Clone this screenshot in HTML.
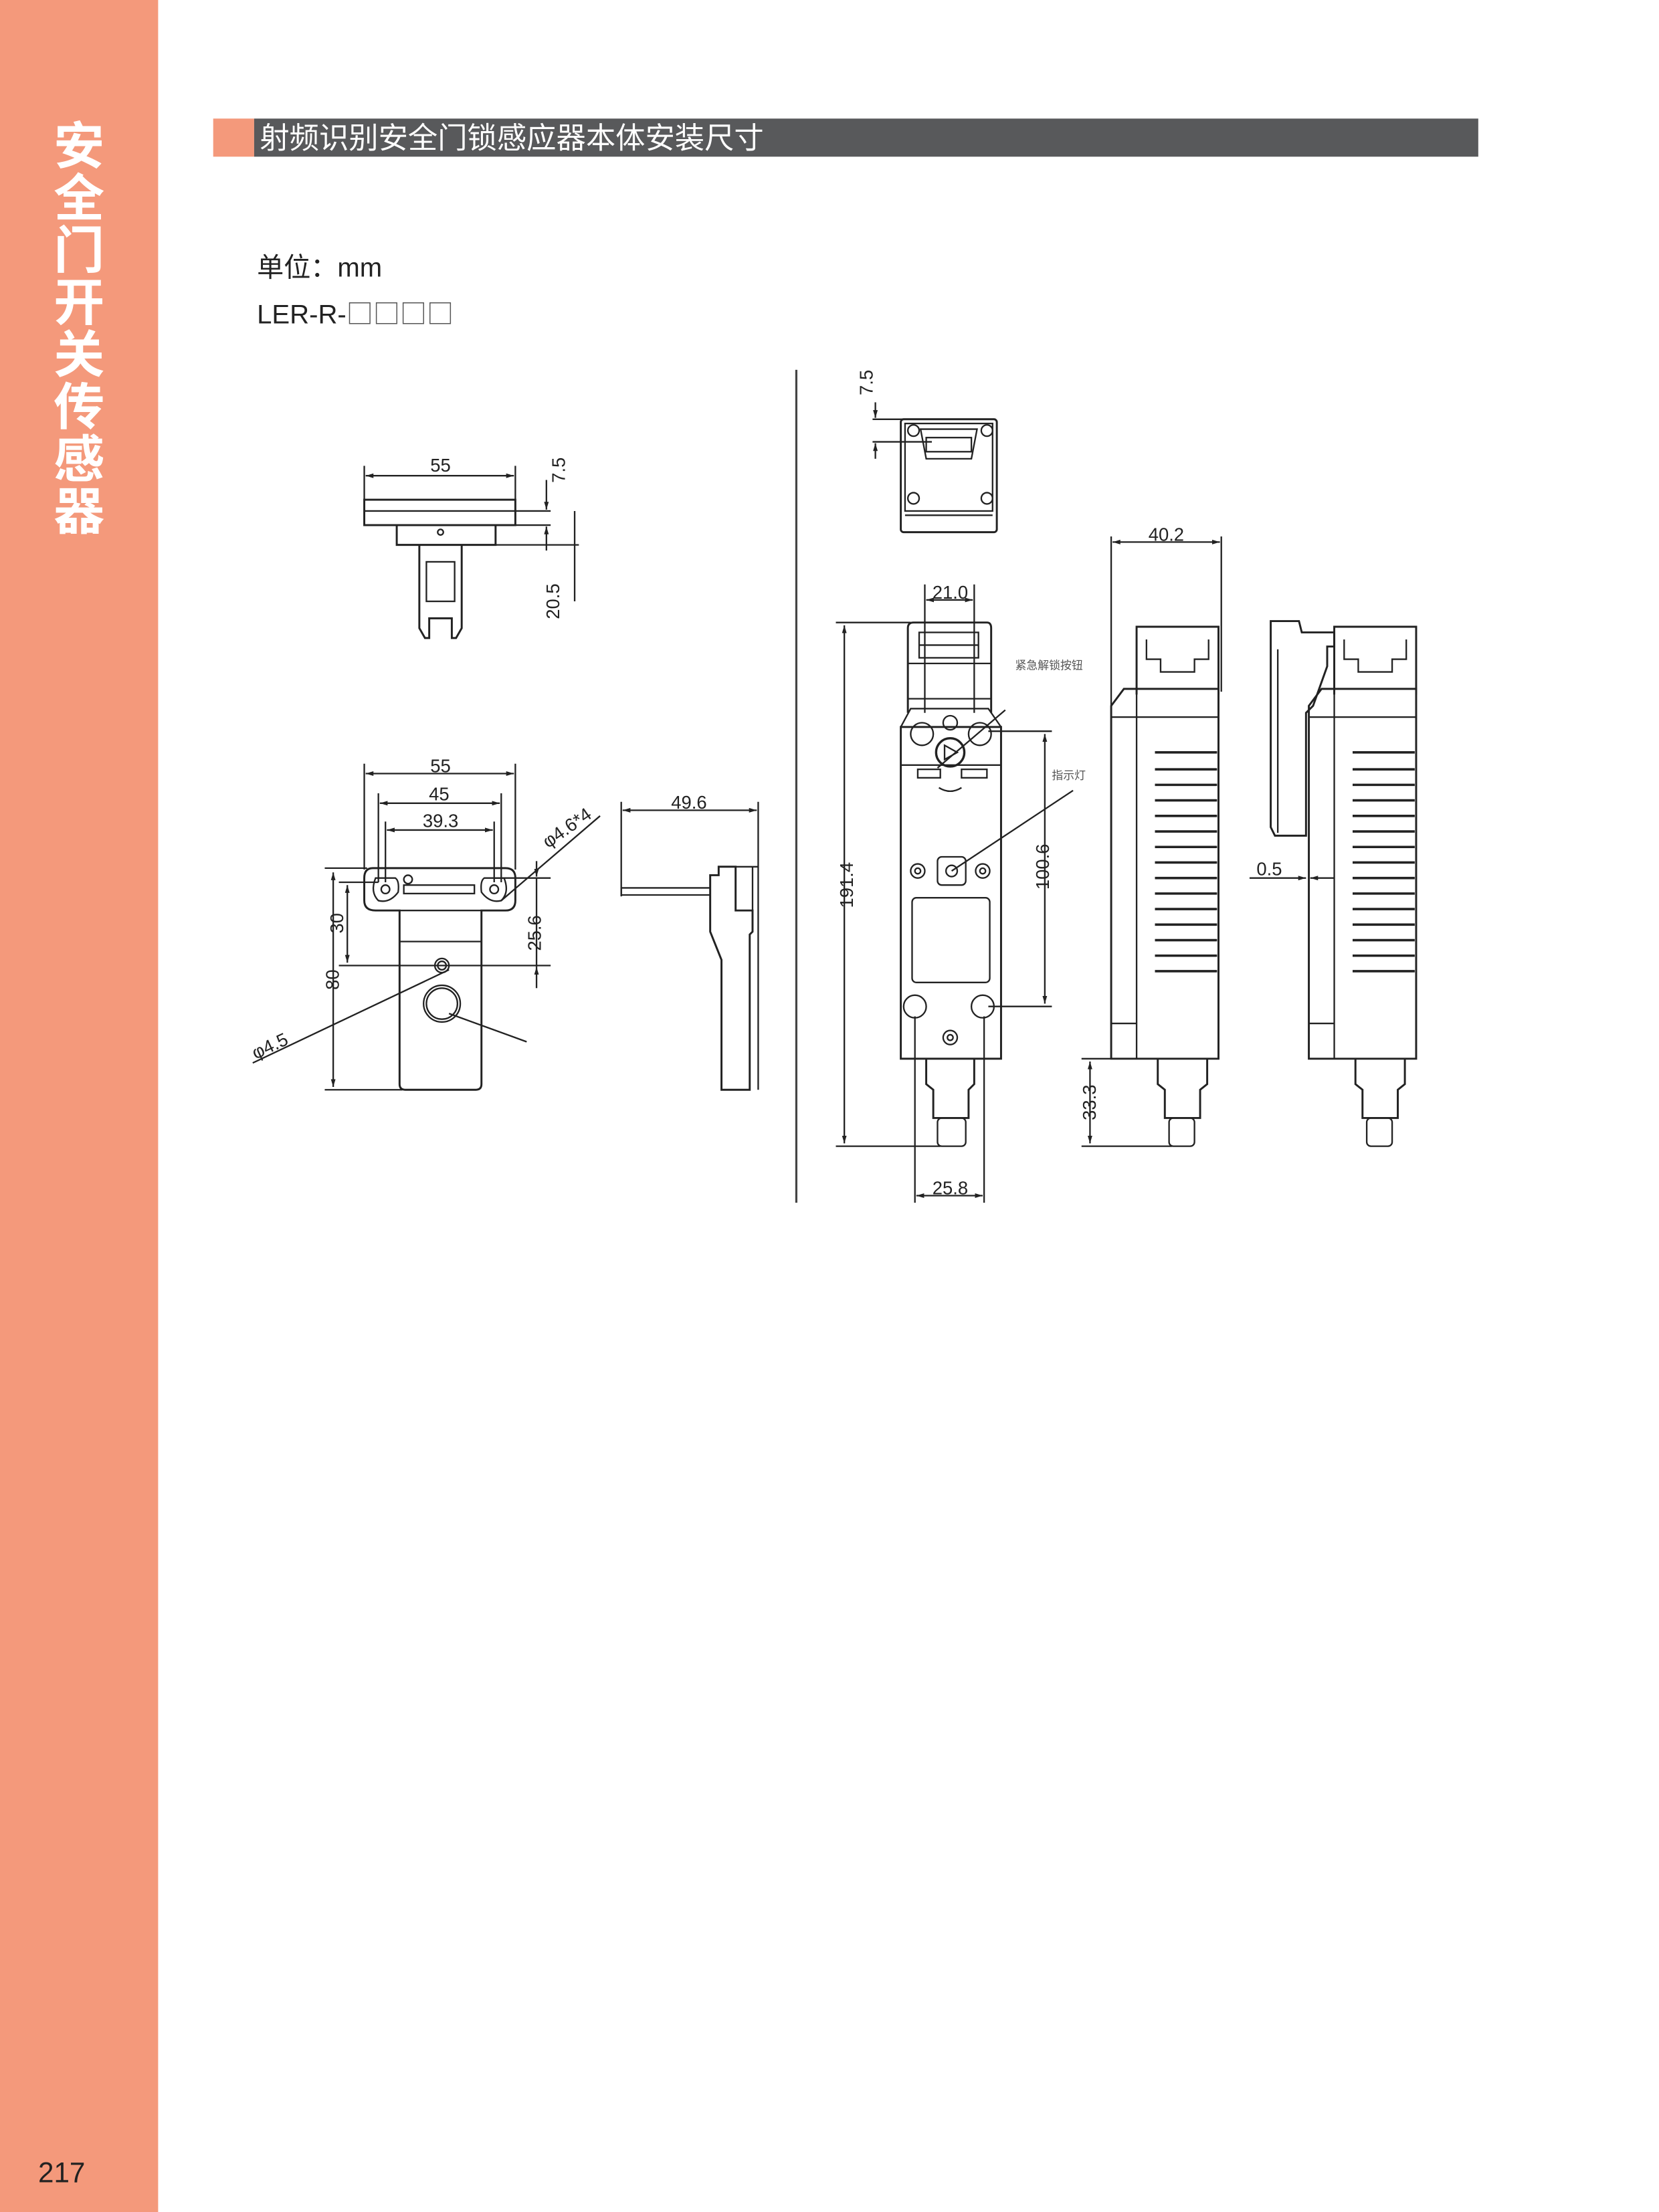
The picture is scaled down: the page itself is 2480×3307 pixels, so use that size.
<!DOCTYPE html>
<html><head><meta charset="utf-8"><style>
html,body{margin:0;padding:0;background:#fff;}
body{width:2480px;height:3307px;overflow:hidden;}
svg{display:block}
</style></head><body>
<svg width="2480" height="3307" viewBox="0 0 1175 1567" preserveAspectRatio="none" xmlns="http://www.w3.org/2000/svg" font-family="Liberation Sans, Noto Sans CJK SC, sans-serif">
<defs>
<marker id="a" viewBox="0 0 10 10" refX="10" refY="5" markerWidth="5" markerHeight="5" orient="auto-start-reverse"><path d="M0,2 L10,5 L0,8z" fill="#222"/></marker>
</defs>
<rect x="0" y="0" width="112" height="1567" fill="#f4997b"/>
<g fill="#fff" font-size="36" font-weight="bold" font-family="Noto Sans CJK SC, sans-serif" text-anchor="middle">
<text x="56" y="116">安</text><text x="56" y="153">全</text><text x="56" y="190">门</text><text x="56" y="227">开</text><text x="56" y="264">关</text><text x="56" y="301">传</text><text x="56" y="338">感</text><text x="56" y="375">器</text>
</g>
<text x="27" y="1546" font-size="20" fill="#222">217</text>
<rect x="151" y="84" width="29" height="27" fill="#f4997b"/>
<rect x="180" y="84" width="867" height="27" fill="#58595b"/>
<text x="184" y="105" font-size="21" fill="#fff" font-family="Liberation Sans, Noto Sans CJK SC, sans-serif">射频识别安全门锁感应器本体安装尺寸</text>
<text x="182" y="196" font-size="19" fill="#222">单位：mm</text>
<text x="182" y="229" font-size="19" fill="#222">LER-R-<tspan font-family="Noto Sans CJK SC, sans-serif" fill="#555">□□□□</tspan></text>
<line x1="564" y1="262" x2="564" y2="852" stroke="#444" stroke-width="1.5"/>

<g stroke="#222" stroke-width="1.1" fill="none">
<line x1="258" y1="330" x2="258" y2="354"/><line x1="365" y1="330" x2="365" y2="354"/>
<line x1="259" y1="337" x2="364" y2="337" marker-start="url(#a)" marker-end="url(#a)"/>
<rect x="258" y="354" width="107" height="18" stroke-width="1.4"/>
<line x1="258" y1="362" x2="365" y2="362"/>
<path d="M281 372 V386 H351 V372" stroke-width="1.4"/>
<circle cx="312" cy="377" r="2"/>
<path d="M297 386 V445 L301 452 H304 V438 H320 V452 H323 L327 445 V386" stroke-width="1.4"/>
<rect x="302" y="398" width="20" height="28"/>
<line x1="365" y1="362" x2="390" y2="362"/><line x1="351" y1="386" x2="410" y2="386"/><line x1="365" y1="372" x2="390" y2="372"/>
<line x1="387" y1="340" x2="387" y2="361" marker-end="url(#a)"/><line x1="387" y1="390" x2="387" y2="373" marker-end="url(#a)"/>
<line x1="407" y1="362" x2="407" y2="426"/>
<line x1="258" y1="541" x2="258" y2="616"/><line x1="365" y1="541" x2="365" y2="616"/>
<line x1="259" y1="548" x2="364" y2="548" marker-start="url(#a)" marker-end="url(#a)"/>
<line x1="268" y1="562" x2="268" y2="625"/><line x1="355" y1="562" x2="355" y2="625"/>
<line x1="269" y1="569" x2="354" y2="569" marker-start="url(#a)" marker-end="url(#a)"/>
<line x1="273" y1="582" x2="273" y2="625"/><line x1="350" y1="582" x2="350" y2="625"/>
<line x1="274" y1="588" x2="349" y2="588" marker-start="url(#a)" marker-end="url(#a)"/>
<path d="M264 615 H358 Q365 615 365 622 V638 Q365 645 358 645 H341 V768 Q341 772 337 772 H287 Q283 772 283 768 V645 H266 Q258 645 258 638 V622 Q258 615 264 615Z" stroke-width="1.4"/>
<path d="M283 645 H341" />
<path d="M266 622 L280 622 Q283 624 282 632 Q276 640 268 638 Q262 632 266 622Z"/>
<path d="M357 622 L343 622 Q340 624 341 632 Q347 640 355 638 Q361 632 357 622Z"/>
<circle cx="273" cy="630" r="3"/><circle cx="350" cy="630" r="3"/>
<circle cx="289" cy="623" r="3"/>
<rect x="286" y="627" width="50" height="6"/>
<line x1="283" y1="667" x2="341" y2="667"/>
<circle cx="313" cy="684" r="5"/><circle cx="313" cy="684" r="3"/>
<circle cx="313" cy="711" r="13"/><circle cx="313" cy="711" r="11"/>
<line x1="230" y1="615" x2="260" y2="615"/><line x1="230" y1="772" x2="285" y2="772"/>
<line x1="236" y1="618" x2="236" y2="770" marker-start="url(#a)" marker-end="url(#a)"/>
<line x1="240" y1="625" x2="268" y2="625"/>
<line x1="240" y1="684" x2="390" y2="684"/>
<line x1="246" y1="627" x2="246" y2="682" marker-start="url(#a)" marker-end="url(#a)"/>
<line x1="350" y1="622" x2="390" y2="622"/>
<line x1="380" y1="610" x2="380" y2="621" marker-end="url(#a)"/><line x1="380" y1="700" x2="380" y2="685" marker-end="url(#a)"/>
<line x1="380" y1="622" x2="380" y2="685"/>
<line x1="355" y1="638" x2="425" y2="578"/>
<line x1="179" y1="753" x2="318" y2="687"/>
<line x1="318" y1="718" x2="373" y2="738"/>
<line x1="440" y1="568" x2="440" y2="635"/><line x1="537" y1="568" x2="537" y2="772"/>
<line x1="441" y1="574" x2="536" y2="574" marker-start="url(#a)" marker-end="url(#a)"/>
<path d="M440 629 H503 V634 H440Z"/>
<path d="M503 620 H509 V614 H521 V645 H533 V660 L531 662 V772 H511 V680 L503 660Z" stroke-width="1.4"/>
<line x1="533" y1="614" x2="533" y2="645"/>
<line x1="521" y1="614" x2="537" y2="614"/>
<rect x="638" y="297" width="68" height="80" rx="2" stroke-width="1.4"/>
<rect x="641" y="300" width="62" height="62"/>
<path d="M652 304 H692 L688 325 H656Z"/><rect x="656" y="310" width="32" height="10"/>
<circle cx="647" cy="305" r="4"/><circle cx="699" cy="305" r="4"/><circle cx="647" cy="353" r="4"/><circle cx="699" cy="353" r="4"/>
<line x1="641" y1="365" x2="703" y2="365"/>
<line x1="618" y1="297" x2="640" y2="297"/><line x1="618" y1="313" x2="660" y2="313"/>
<line x1="620" y1="285" x2="620" y2="296" marker-end="url(#a)"/><line x1="620" y1="325" x2="620" y2="314" marker-end="url(#a)"/>
<path d="M643 505 V445 Q643 441 647 441 H699 Q702 441 702 445 V505" stroke-width="1.4"/>
<rect x="651" y="448" width="42" height="18"/><line x1="651" y1="457" x2="693" y2="457"/>
<line x1="643" y1="470" x2="702" y2="470"/><line x1="643" y1="495" x2="702" y2="495"/>
<path d="M638 515 L645 502 H700 L709 515" />
<rect x="638" y="515" width="71" height="235" stroke-width="1.4"/>
<line x1="638" y1="542" x2="709" y2="542"/>
<circle cx="653" cy="520" r="8"/><circle cx="694" cy="520" r="8"/><circle cx="673" cy="512" r="5"/>
<circle cx="673" cy="533" r="10" stroke-width="1.6"/><path d="M669 528 L678 533 L669 538Z"/>
<rect x="650" y="545" width="16" height="6"/><rect x="681" y="545" width="18" height="6"/>
<path d="M665 558 Q673 563 681 558"/>
<circle cx="650" cy="617" r="5"/><circle cx="650" cy="617" r="2"/><circle cx="696" cy="617" r="5"/><circle cx="696" cy="617" r="2"/>
<rect x="664" y="607" width="20" height="20" rx="3"/><circle cx="674" cy="617" r="4"/>
<rect x="646" y="636" width="55" height="60" rx="3"/>
<circle cx="648" cy="713" r="8"/><circle cx="696" cy="713" r="8"/><circle cx="673" cy="735" r="5"/><circle cx="673" cy="735" r="2"/>
<path d="M656 750 V768 L661 772 V792 H686 V772 L690 768 V750" stroke-width="1.4"/>
<rect x="664" y="792" width="20" height="20" rx="3"/>
<line x1="655" y1="414" x2="655" y2="505"/><line x1="690" y1="414" x2="690" y2="505"/>
<line x1="656" y1="425" x2="689" y2="425" marker-start="url(#a)" marker-end="url(#a)"/>
<line x1="592" y1="441" x2="645" y2="441"/><line x1="592" y1="812" x2="666" y2="812"/>
<line x1="598" y1="443" x2="598" y2="810" marker-start="url(#a)" marker-end="url(#a)"/>
<line x1="648" y1="720" x2="648" y2="852"/><line x1="697" y1="720" x2="697" y2="852"/>
<line x1="649" y1="847" x2="696" y2="847" marker-start="url(#a)" marker-end="url(#a)"/>
<line x1="700" y1="518" x2="745" y2="518"/><line x1="700" y1="713" x2="745" y2="713"/>
<line x1="740" y1="520" x2="740" y2="711" marker-start="url(#a)" marker-end="url(#a)"/>
<line x1="664" y1="544" x2="712" y2="503"/>
<line x1="674" y1="617" x2="760" y2="560"/>
<path d="M805 492 V444 H863 V492" stroke-width="1.4"/>
<path d="M812 453 V467 H822 V476 H846 V467 H856 V453"/>
<path d="M787 500 L796 488 H863 V750 H787Z" stroke-width="1.4"/>
<line x1="805" y1="488" x2="805" y2="750"/><line x1="787" y1="508" x2="863" y2="508"/><line x1="787" y1="725" x2="805" y2="725"/>
<g stroke-width="1.7">
<line x1="818" y1="533" x2="862" y2="533"/><line x1="818" y1="545" x2="862" y2="545"/><line x1="818" y1="556" x2="862" y2="556"/><line x1="818" y1="567" x2="862" y2="567"/><line x1="818" y1="578" x2="862" y2="578"/><line x1="818" y1="589" x2="862" y2="589"/><line x1="818" y1="600" x2="862" y2="600"/><line x1="818" y1="611" x2="862" y2="611"/><line x1="818" y1="622" x2="862" y2="622"/><line x1="818" y1="633" x2="862" y2="633"/><line x1="818" y1="644" x2="862" y2="644"/><line x1="818" y1="655" x2="862" y2="655"/><line x1="818" y1="666" x2="862" y2="666"/><line x1="818" y1="677" x2="862" y2="677"/><line x1="818" y1="688" x2="862" y2="688"/>
</g>
<path d="M820 750 V768 L825 772 V792 H850 V772 L855 768 V750" stroke-width="1.4"/><rect x="828" y="792" width="18" height="20" rx="3"/>
<line x1="787" y1="380" x2="787" y2="500"/><line x1="865" y1="380" x2="865" y2="490"/>
<line x1="788" y1="384" x2="864" y2="384" marker-start="url(#a)" marker-end="url(#a)"/>
<line x1="766" y1="750" x2="800" y2="750"/><line x1="766" y1="812" x2="830" y2="812"/>
<line x1="772" y1="752" x2="772" y2="810" marker-start="url(#a)" marker-end="url(#a)"/>
<path d="M945 492 V444 H1003 V492" stroke-width="1.4"/>
<path d="M952 453 V467 H962 V476 H986 V467 H996 V453"/>
<path d="M927 500 L936 488 H1003 V750 H927Z" stroke-width="1.4"/>
<line x1="945" y1="488" x2="945" y2="750"/><line x1="927" y1="508" x2="1003" y2="508"/><line x1="927" y1="725" x2="945" y2="725"/>
<g stroke-width="1.7">
<line x1="958" y1="533" x2="1002" y2="533"/><line x1="958" y1="545" x2="1002" y2="545"/><line x1="958" y1="556" x2="1002" y2="556"/><line x1="958" y1="567" x2="1002" y2="567"/><line x1="958" y1="578" x2="1002" y2="578"/><line x1="958" y1="589" x2="1002" y2="589"/><line x1="958" y1="600" x2="1002" y2="600"/><line x1="958" y1="611" x2="1002" y2="611"/><line x1="958" y1="622" x2="1002" y2="622"/><line x1="958" y1="633" x2="1002" y2="633"/><line x1="958" y1="644" x2="1002" y2="644"/><line x1="958" y1="655" x2="1002" y2="655"/><line x1="958" y1="666" x2="1002" y2="666"/><line x1="958" y1="677" x2="1002" y2="677"/><line x1="958" y1="688" x2="1002" y2="688"/>
</g>
<path d="M960 750 V768 L965 772 V792 H990 V772 L995 768 V750" stroke-width="1.4"/><rect x="968" y="792" width="18" height="20" rx="3"/>
<path d="M900 440 H920 L922 448 H945 V458 H940 V472 L930 500 L925 505 V592 H903 L900 586Z" stroke-width="1.4"/>
<line x1="905" y1="460" x2="905" y2="590"/>
<line x1="885" y1="622" x2="925" y2="622" marker-end="url(#a)"/><line x1="945" y1="622" x2="928" y2="622" marker-end="url(#a)"/>
</g>

<g fill="#222" font-size="13" text-anchor="middle">
<text x="312" y="334">55</text>
<text x="312" y="547">55</text>
<text x="311" y="567">45</text>
<text x="312" y="586">39.3</text>
<text x="488" y="573">49.6</text>
<text x="673" y="424">21.0</text>
<text x="826" y="383">40.2</text>
<text x="673" y="846">25.8</text>
<text x="899" y="620">0.5</text>
<text transform="translate(400,333) rotate(-90)">7.5</text>
<text transform="translate(396,426) rotate(-90)">20.5</text>
<text transform="translate(618,271) rotate(-90)">7.5</text>
<text transform="translate(243,654) rotate(-90)">30</text>
<text transform="translate(240,694) rotate(-90)">80</text>
<text transform="translate(383,661) rotate(-90)">25.6</text>
<text transform="translate(604,627) rotate(-90)">191.4</text>
<text transform="translate(743,614) rotate(-90)">100.6</text>
<text transform="translate(776,781) rotate(-90)">33.3</text>
<text transform="translate(404,590) rotate(-35)">φ4.6*4</text>
<text transform="translate(193,745) rotate(-25)">φ4.5</text>
<text x="743" y="474" font-size="8" fill="#555" font-family="Noto Sans CJK SC, sans-serif">紧急解锁按钮</text>
<text x="757" y="552" font-size="8" fill="#555" font-family="Noto Sans CJK SC, sans-serif">指示灯</text>
</g>
</svg>
</body></html>
